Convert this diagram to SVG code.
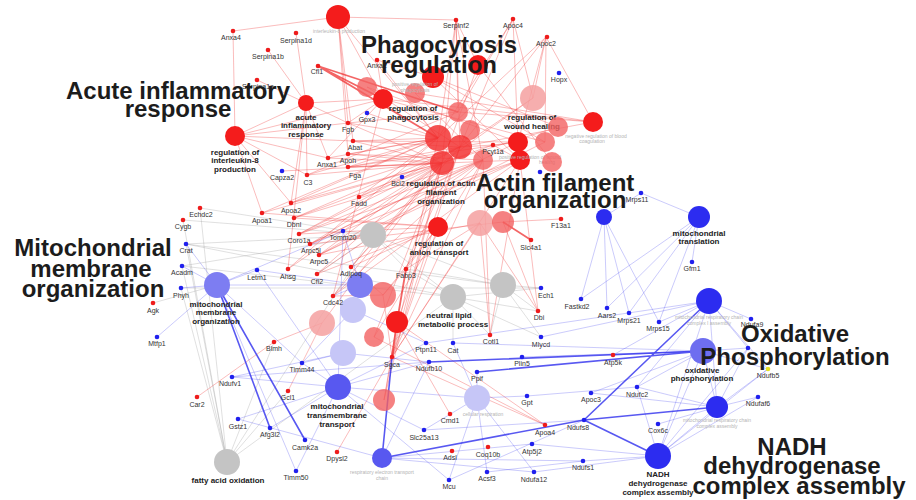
<svg xmlns="http://www.w3.org/2000/svg" width="916" height="500" viewBox="0 0 916 500">
<style>
.er{fill:none;stroke:#f03c3c;stroke-opacity:.38;stroke-width:.9}
.ert{fill:none;stroke:#ee2424;stroke-opacity:.7;stroke-width:1.8}
.eb{fill:none;stroke:#4848f0;stroke-opacity:.32;stroke-width:.9}
.ebt{fill:none;stroke:#2e2eee;stroke-opacity:.8;stroke-width:1.6}
.eg{fill:none;stroke:#9a9a9a;stroke-opacity:.35;stroke-width:.9}
.rg{fill:#ee1c1c}
.bg{fill:#2020ee}
.yg{fill:#e6e020}
.gl{font-family:"Liberation Sans",Arial,sans-serif;font-size:7px;fill:#333;text-anchor:middle}
.tl{font-family:"Liberation Sans",Arial,sans-serif;font-size:8px;font-weight:bold;fill:#222;text-anchor:middle}
.fl{font-family:"Liberation Sans",Arial,sans-serif;font-size:5px;fill:#b4b4b4;text-anchor:middle}
.big{font-family:"Liberation Sans",Arial,sans-serif;font-size:24px;font-weight:bold;fill:#1c1c1c;text-anchor:middle}
.c1{fill:#f41c1c}
.c2{fill:#f23434;fill-opacity:.85}
.c3{fill:#f26262;fill-opacity:.8}
.c4{fill:#f5a0a0;fill-opacity:.85}
.b1{fill:#2c2cf0}
.b2{fill:#5858f0}
.b3{fill:#7d7df2}
.b4{fill:#c6c6f7}
.gr{fill:#c4c4c4}
</style>
<rect width="916" height="500" fill="#fff"/>
<g id="connectors">
<path class="eg" d="M227 462L200 208M227 462L183 220M227 462L186 244M227 462L182 266M227 462L181 288M227 462L288 391M227 462L373 235M227 462L453 297M227 462L274 342M373 235L186 244M373 235L182 266M373 235L200 208M373 235L406 269M373 235L453 297M373 235L503 285M373 235L317 274M453 297L186 244M453 297L182 266M453 297L453 343M453 297L538 311M453 297L541 288M453 297L406 269M453 297L490 335M453 297L541 337M503 285L541 288M503 285L538 311M503 285L490 335M503 285L186 244M503 285L541 337M503 285L406 269M153 303L217 285M183 220L373 235M181 288L541 288"/>
<path class="er" d="M348 123L383 99M348 123L438 138M348 123L458 112M348 123L442 163M353 141L438 138M353 141L442 163M353 141L460 147M353 141L518 142M348 154L438 138M348 154L442 163M348 154L483 160M328 158L383 99M328 158L438 138M328 158L442 163M328 158L235 136M348 167L438 138M348 167L442 163M348 167L460 147M348 167L520 160M348 167L518 142M307 175L306 103M307 175L235 136M307 175L438 138M307 175L442 163M307 175L458 112M291 203L438 138M291 203L442 163M291 203L460 147M291 203L235 136M291 203L306 103M262 213L438 138M262 213L442 163M262 213L235 136M262 213L438 227M294 218L442 163M294 218L460 147M294 218L483 160M294 218L438 227M299 234L442 163M299 234L460 147M299 234L483 160M299 234L520 160M299 234L438 227M310 244L442 163M310 244L483 160M310 244L520 160M310 244L518 142M310 244L503 222M319 255L442 163M319 255L483 160M319 255L520 160M319 255L545 142M319 255L480 223M288 269L438 138M288 269L442 163M288 269L306 103M317 274L442 163M317 274L483 160M317 274L438 227M359 197L438 138M359 197L442 163M359 197L460 147M351 267L442 163M351 267L460 147M351 267L438 227M351 267L383 295M333 296L442 163M333 296L483 160M333 296L520 160M333 296L383 99M377 60L383 99M377 60L438 138M377 60L433 77M456 20L438 138M456 20L442 163M456 20L460 147M456 20L458 112M456 20L478 65M456 20L483 160M513 19L460 147M513 19L438 138M513 19L533 98M513 19L458 112M513 19L518 142M546 37L438 138M546 37L460 147M546 37L593 122M546 37L533 98M546 37L518 142M546 37L545 142M338 17L233 31M338 17L348 123M338 17L353 141M338 17L348 154M338 17L383 99M338 17L438 138M338 17L456 20M306 103L296 33M306 103L268 50M306 103L257 80M306 103L348 123M306 103L328 158M306 103L383 99M235 136L233 31M235 136L306 103M235 136L348 123M235 136L353 141M235 136L383 99M493 145L460 147M493 145L518 142M493 145L520 160M493 145L442 163M383 99L593 122M415 93L593 122M433 77L558 127M458 112L593 122M433 77L545 142M383 99L545 142M367 87L518 142M478 65L552 162M533 98L442 163M433 77L520 160M438 227L406 269M438 227L392 357M438 227L383 295M480 223L490 335M480 223L538 311M480 223L406 269M480 223L392 357M503 222L561 219M503 222L538 311M383 295L392 357M383 295L406 269M383 295L333 296M442 163L392 357M460 147L392 357M438 138L392 357M483 160L392 357M520 160L392 357M442 163L406 269M460 147L406 269M483 160L490 335M520 160L490 335M442 163L374 337M460 147L397 322M337 452L392 357M392 357L384 400M197 397L274 342M274 342L322 323M288 391L322 323M538 311L520 160M450 414L397 322M545 425L397 322M545 425L374 337M545 425L392 357M384 400L397 322M384 400L442 163M282 171L442 163M367 113L438 138M322 323L442 163M374 337L483 160M367 87L460 147M415 93L483 160M478 65L442 163M533 98L460 147M558 127L442 163M593 122L460 147"/>
<path class="ert" d="M318 66L383 99M318 66L438 138M318 66L458 112M531 240L503 222M406 269L397 322M397 322L392 357"/>
<path class="eb" d="M217 285L186 244M217 285L182 266M217 285L181 288M217 285L257 270M217 285L157 337M217 285L343 231M217 285L302 363M217 285L296 471M338 387L302 363M338 387L296 471M338 387L270 428M338 387L424 430M338 387L257 270M338 387L343 231M338 387L232 377M338 387L449 480M338 387L426 343M338 387L238 419M338 387L429 362M382 458L583 461M382 458L534 472M382 458L532 444M382 458L429 362M382 458L238 419M658 456L758 397M658 456L637 387M658 456L717 407M658 456L703 351M658 456L709 301M658 456L748 348M658 456L768 369M658 456L583 461M658 456L534 472M717 407L758 397M717 407L768 369M717 407L748 348M717 407L703 351M717 407L637 387M717 407L709 301M717 407L658 424M703 351L768 369M703 351L748 348M703 351L637 387M703 351L591 393M703 351L613 355M703 351L522 357M703 351L453 343M709 301L751 319M709 301L748 348M709 301L768 369M709 301L659 322M709 301L541 337M709 301L637 387M709 301L613 355M709 301L426 343M699 217L692 262M699 217L581 299M699 217L607 308M699 217L629 313M699 217L659 322M699 217L641 193M604 217L641 193M604 217L581 299M604 217L607 308M604 217L629 313M604 217L659 322M477 398L477 372M477 398L527 396M477 398L453 343M477 398L449 480M477 398L487 472M477 398L424 430M477 398L534 472M477 398L338 387M360 285L343 231M360 285L257 270M360 285L333 296M353 310L302 363M353 310L426 343M343 353L302 363M343 353L429 362M343 353L232 377M360 285L217 285M232 377L429 362M532 444L658 456M424 430L584 420M449 480L584 420M487 472L583 461M527 396L637 387M591 393L717 407"/>
<path class="ebt" d="M217 285L270 428M217 285L305 440M382 458L392 357M382 458L584 420L717 407M584 420L658 456M584 420L709 301M477 372L703 351M429 362L703 351"/>
</g>
<g id="go-il8prod"><circle class="c1" cx="338" cy="17" r="12"/><text class="fl" x="339" y="32.5">interleukin-8 production</text></g>
<g id="go-acute"><circle class="c1" cx="306" cy="103" r="8"/><text class="tl" x="306" y="119.5">acute</text><text class="tl" x="306" y="128">inflammatory</text><text class="tl" x="306" y="136.5">response</text></g>
<g id="go-reg-il8"><circle class="c1" cx="235" cy="136" r="10"/><text class="tl" x="235" y="154.5">regulation of</text><text class="tl" x="235" y="163">interleukin-8</text><text class="tl" x="235" y="171.5">production</text></g>
<g id="go-r4"><circle class="c3" cx="367" cy="87" r="10"/></g>
<g id="go-reg-phago"><circle class="c1" cx="383" cy="99" r="10"/><text class="tl" x="413" y="110.5">regulation of</text><text class="tl" x="413" y="119.5">phagocytosis</text></g>
<g id="go-r6"><circle class="c1" cx="433" cy="77" r="11"/></g>
<g id="go-r7"><circle class="c3" cx="415" cy="93" r="10"/><text class="fl" x="415" y="86">positive regulation of</text><text class="fl" x="415" y="91.5">phagocytosis</text></g>
<g id="go-r8"><circle class="c1" cx="478" cy="65" r="10"/></g>
<g id="go-wound"><circle class="c4" cx="533" cy="98" r="13"/><text class="tl" x="532" y="119.5">regulation of</text><text class="tl" x="532" y="128.5">wound healing</text></g>
<g id="go-r10"><circle class="c1" cx="593" cy="122" r="10"/><text class="fl" x="596" y="137.5">negative regulation of blood</text><text class="fl" x="592" y="143">coagulation</text></g>
<g id="go-r11"><circle class="c3" cx="558" cy="127" r="10"/></g>
<g id="go-r12"><circle class="c3" cx="545" cy="142" r="10"/></g>
<g id="go-r13"><circle class="c1" cx="518" cy="142" r="10"/></g>
<g id="go-r14"><circle class="c3" cx="458" cy="112" r="10"/></g>
<g id="go-r15"><circle class="c3" cx="470" cy="130" r="10"/></g>
<g id="go-r16"><circle class="c2" cx="460" cy="147" r="12"/></g>
<g id="go-r17"><circle class="c1" cx="520" cy="160" r="10"/><text class="fl" x="530" y="158.5">positive regulation of wound</text><text class="fl" x="547" y="164">healing</text></g>
<g id="go-r18"><circle class="c3" cx="483" cy="160" r="10"/></g>
<g id="go-r19"><circle class="c3" cx="552" cy="162" r="10"/></g>
<g id="go-r20"><circle class="c2" cx="438" cy="138" r="13"/></g>
<g id="go-actin"><circle class="c2" cx="442" cy="163" r="12"/><text class="tl" x="441" y="185.5">regulation of actin</text><text class="tl" x="441" y="194.5">filament</text><text class="tl" x="441" y="203.5">organization</text></g>
<g id="go-anion"><circle class="c1" cx="438" cy="227" r="10"/><text class="tl" x="439" y="245.5">regulation of</text><text class="tl" x="439" y="254.5">anion transport</text></g>
<g id="go-r23"><circle class="c4" cx="480" cy="223" r="13"/></g>
<g id="go-r24"><circle class="c3" cx="503" cy="222" r="11"/></g>
<g id="go-r25"><circle class="c3" cx="383" cy="295" r="13"/></g>
<g id="go-r26"><circle class="c1" cx="397" cy="322" r="11"/></g>
<g id="go-r27"><circle class="c4" cx="322" cy="323" r="13"/></g>
<g id="go-r28"><circle class="c3" cx="374" cy="337" r="10"/></g>
<g id="go-r29"><circle class="c3" cx="384" cy="400" r="11"/></g>
<g id="go-g1"><circle class="gr" cx="373" cy="235" r="13"/></g>
<g id="go-lipid"><circle class="gr" cx="453" cy="297" r="13"/><text class="tl" x="449" y="318">neutral lipid</text><text class="tl" x="453" y="326.5">metabolic process</text></g>
<g id="go-g3"><circle class="gr" cx="503" cy="285" r="13"/></g>
<g id="go-fao"><circle class="gr" cx="227" cy="462" r="13"/><text class="tl" x="228" y="483">fatty acid oxidation</text></g>
<g id="go-mmo"><circle class="b3" cx="217" cy="285" r="13"/><text class="tl" x="216" y="306.5">mitochondrial</text><text class="tl" x="216" y="315">membrane</text><text class="tl" x="216" y="323.5">organization</text></g>
<g id="go-b2"><circle class="b3" cx="360" cy="285" r="13"/></g>
<g id="go-b3"><circle class="b4" cx="353" cy="310" r="13"/></g>
<g id="go-b4"><circle class="b4" cx="343" cy="353" r="13"/></g>
<g id="go-mtt"><circle class="b2" cx="338" cy="387" r="13"/><text class="tl" x="337" y="408.5">mitochondrial</text><text class="tl" x="337" y="417.5">transmembrane</text><text class="tl" x="337" y="426.5">transport</text></g>
<g id="go-retc"><circle class="b2" cx="382" cy="458" r="10"/><text class="fl" x="382" y="474">respiratory electron transport</text><text class="fl" x="382" y="480">chain</text></g>
<g id="go-cellresp"><circle class="b4" cx="477" cy="398" r="13"/><text class="fl" x="483" y="415.5">cellular respiration</text></g>
<g id="go-b8"><circle class="b1" cx="604" cy="217" r="8"/></g>
<g id="go-mtrans"><circle class="b1" cx="699" cy="217" r="11"/><text class="tl" x="699" y="235.5">mitochondrial</text><text class="tl" x="699" y="244">translation</text></g>
<g id="go-c1asm"><circle class="b1" cx="709" cy="301" r="13"/><text class="fl" x="709" y="318.5">mitochondrial respiratory chain</text><text class="fl" x="709" y="324.5">complex I assembly</text></g>
<g id="go-oxphos"><circle fill="#6e6ef0" cx="703" cy="351" r="13"/><text class="tl" x="702" y="372.5">oxidative</text><text class="tl" x="702" y="381">phosphorylation</text></g>
<g id="go-casm"><circle class="b1" cx="717" cy="407" r="11"/><text class="fl" x="717" y="421.5">mitochondrial respiratory chain</text><text class="fl" x="717" y="427.5">complex assembly</text></g>
<g id="go-nadh"><circle class="b1" cx="658" cy="456" r="13"/><text class="tl" x="658" y="476.5">NADH</text><text class="tl" x="658" y="485.5">dehydrogenase</text><text class="tl" x="658" y="494.5">complex assembly</text></g>
<g id="genes">
<g id="n-Anxa4"><circle class="rg" cx="233" cy="31" r="2.3"/><text class="gl" x="231" y="40">Anxa4</text></g>
<g id="n-Serpina1d"><circle class="rg" cx="296" cy="33" r="2.3"/><text class="gl" x="296" y="43">Serpina1d</text></g>
<g id="n-Serpina1b"><circle class="rg" cx="268" cy="50" r="2.3"/><text class="gl" x="268" y="59">Serpina1b</text></g>
<g id="n-Serpina1a"><circle class="rg" cx="257" cy="80" r="2.3"/><text class="gl" x="258" y="89">Serpina1a</text></g>
<g id="n-Cfl1"><circle class="rg" cx="318" cy="66" r="2.3"/><text class="gl" x="317" y="74">Cfl1</text></g>
<g id="n-Anxa2"><circle class="rg" cx="377" cy="60" r="2.3"/><text class="gl" x="377" y="68">Anxa2</text></g>
<g id="n-Serpinf2"><circle class="rg" cx="456" cy="20" r="2.3"/><text class="gl" x="456" y="27.5">Serpinf2</text></g>
<g id="n-Apoc4"><circle class="rg" cx="513" cy="19" r="2.3"/><text class="gl" x="513" y="27.5">Apoc4</text></g>
<g id="n-Apoc2"><circle class="rg" cx="547" cy="37" r="2.3"/><text class="gl" x="546" y="46">Apoc2</text></g>
<g id="n-Hopx"><circle class="bg" cx="559" cy="73" r="2.3"/><text class="gl" x="559" y="82">Hopx</text></g>
<g id="n-Pcyt1a"><circle class="rg" cx="493" cy="145" r="2.3"/><text class="gl" x="493" y="153.5">Pcyt1a</text></g>
<g id="n-Gpx3"><circle class="bg" cx="367" cy="113" r="2.3"/><text class="gl" x="367" y="121.5">Gpx3</text></g>
<g id="n-Fgb"><circle class="rg" cx="348" cy="123" r="2.3"/><text class="gl" x="348" y="131.5">Fgb</text></g>
<g id="n-Abat"><circle class="rg" cx="353" cy="141" r="2.3"/><text class="gl" x="355" y="149.5">Abat</text></g>
<g id="n-Apoh"><circle class="rg" cx="348" cy="154" r="2.3"/><text class="gl" x="348" y="162.5">Apoh</text></g>
<g id="n-Anxa1"><circle class="rg" cx="328" cy="158" r="2.3"/><text class="gl" x="327" y="166.5">Anxa1</text></g>
<g id="n-Fga"><circle class="rg" cx="348" cy="167" r="2.3"/><text class="gl" x="355" y="177.5">Fga</text></g>
<g id="n-Capza2"><circle class="bg" cx="282" cy="171" r="2.3"/><text class="gl" x="282" y="179.5">Capza2</text></g>
<g id="n-C3"><circle class="rg" cx="307" cy="175" r="2.3"/><text class="gl" x="308" y="184.5">C3</text></g>
<g id="n-Bcl2"><circle class="bg" cx="402" cy="177" r="2.3"/><text class="gl" x="398" y="185.5">Bcl2</text></g>
<g id="n-Fadd"><circle class="rg" cx="359" cy="197" r="2.3"/><text class="gl" x="359" y="205.5">Fadd</text></g>
<g id="n-Apoa2"><circle class="rg" cx="291" cy="203" r="2.3"/><text class="gl" x="291" y="212.5">Apoa2</text></g>
<g id="n-Apoa1"><circle class="rg" cx="262" cy="213" r="2.3"/><text class="gl" x="262" y="222.5">Apoa1</text></g>
<g id="n-Dbnl"><circle class="rg" cx="294" cy="218" r="2.3"/><text class="gl" x="294" y="226.5">Dbnl</text></g>
<g id="n-Tomm20"><circle class="bg" cx="343" cy="231" r="2.3"/><text class="gl" x="343" y="239.5">Tomm20</text></g>
<g id="n-Coro1a"><circle class="rg" cx="299" cy="234" r="2.3"/><text class="gl" x="299" y="243">Coro1a</text></g>
<g id="n-Arpc5l"><circle class="rg" cx="310" cy="244" r="2.3"/><text class="gl" x="311" y="252.5">Arpc5l</text></g>
<g id="n-Arpc5"><circle class="rg" cx="319" cy="255" r="2.3"/><text class="gl" x="319" y="263.5">Arpc5</text></g>
<g id="n-Ahsg"><circle class="rg" cx="288" cy="269" r="2.3"/><text class="gl" x="288" y="278.5">Ahsg</text></g>
<g id="n-Cfl2"><circle class="rg" cx="317" cy="274" r="2.3"/><text class="gl" x="317" y="283.5">Cfl2</text></g>
<g id="n-Adipoq"><circle class="rg" cx="351" cy="267" r="2.3"/><text class="gl" x="351" y="275.5">Adipoq</text></g>
<g id="n-Cdc42"><circle class="rg" cx="333" cy="296" r="2.3"/><text class="gl" x="333" y="304.5">Cdc42</text></g>
<g id="n-Fabp3"><circle class="rg" cx="406" cy="269" r="2.3"/><text class="gl" x="406" y="277.5">Fabp3</text></g>
<g id="n-Letm1"><circle class="bg" cx="257" cy="270" r="2.3"/><text class="gl" x="257" y="279.5">Letm1</text></g>
<g id="n-Echdc2"><circle class="rg" cx="200" cy="208" r="2.3"/><text class="gl" x="201" y="216.5">Echdc2</text></g>
<g id="n-Cygb"><circle class="rg" cx="183" cy="220" r="2.3"/><text class="gl" x="183" y="228.5">Cygb</text></g>
<g id="n-Crat"><circle class="bg" cx="186" cy="244" r="2.3"/><text class="gl" x="186" y="252.5">Crat</text></g>
<g id="n-Acadm"><circle class="bg" cx="182" cy="266" r="2.3"/><text class="gl" x="182" y="274.5">Acadm</text></g>
<g id="n-Phyh"><circle class="bg" cx="181" cy="288" r="2.3"/><text class="gl" x="181" y="297.5">Phyh</text></g>
<g id="n-Agk"><circle class="rg" cx="153" cy="303" r="2.3"/><text class="gl" x="153" y="312.5">Agk</text></g>
<g id="n-Mtfp1"><circle class="bg" cx="157" cy="337" r="2.3"/><text class="gl" x="157" y="345.5">Mtfp1</text></g>
<g id="n-F13a1"><circle class="rg" cx="561" cy="219" r="2.3"/><text class="gl" x="561" y="227.5">F13a1</text></g>
<g id="n-Slc4a1"><circle class="rg" cx="531" cy="240" r="2.3"/><text class="gl" x="531" y="249.5">Slc4a1</text></g>
<g id="n-x540"><circle class="bg" cx="540" cy="172" r="2.3"/></g>
<g id="n-Ech1"><circle class="bg" cx="541" cy="288" r="2.3"/><text class="gl" x="546" y="297.5">Ech1</text></g>
<g id="n-Dbi"><circle class="rg" cx="538" cy="311" r="2.3"/><text class="gl" x="539" y="319.5">Dbi</text></g>
<g id="n-Mrps11"><circle class="bg" cx="641" cy="193" r="2.3"/><text class="gl" x="637" y="201.5">Mrps11</text></g>
<g id="n-Gfm1"><circle class="bg" cx="692" cy="262" r="2.3"/><text class="gl" x="692" y="270.5">Gfm1</text></g>
<g id="n-Fastkd2"><circle class="bg" cx="581" cy="299" r="2.3"/><text class="gl" x="577" y="308.5">Fastkd2</text></g>
<g id="n-Aars2"><circle class="bg" cx="607" cy="308" r="2.3"/><text class="gl" x="607" y="317.5">Aars2</text></g>
<g id="n-Mrps21"><circle class="bg" cx="629" cy="313" r="2.3"/><text class="gl" x="629" y="322.5">Mrps21</text></g>
<g id="n-Mrps15"><circle class="bg" cx="659" cy="322" r="2.3"/><text class="gl" x="658" y="330.5">Mrps15</text></g>
<g id="n-Blmh"><circle class="rg" cx="274" cy="342" r="2.3"/><text class="gl" x="274" y="350.5">Blmh</text></g>
<g id="n-Ptpn11"><circle class="bg" cx="426" cy="343" r="2.3"/><text class="gl" x="426" y="351.5">Ptpn11</text></g>
<g id="n-Sgca"><circle class="rg" cx="392" cy="357" r="2.3"/><text class="gl" x="392" y="366.5">Sgca</text></g>
<g id="n-Ndufb10"><circle class="bg" cx="429" cy="362" r="2.3"/><text class="gl" x="429" y="370.5">Ndufb10</text></g>
<g id="n-Timm44"><circle class="bg" cx="302" cy="363" r="2.3"/><text class="gl" x="302" y="371.5">Timm44</text></g>
<g id="n-Ndufv1"><circle class="bg" cx="232" cy="377" r="2.3"/><text class="gl" x="230" y="385.5">Ndufv1</text></g>
<g id="n-Gcl1"><circle class="rg" cx="288" cy="391" r="2.3"/><text class="gl" x="288" y="399.5">Gcl1</text></g>
<g id="n-Car2"><circle class="rg" cx="197" cy="397" r="2.3"/><text class="gl" x="197" y="406.5">Car2</text></g>
<g id="n-Gstz1"><circle class="bg" cx="238" cy="419" r="2.3"/><text class="gl" x="238" y="428.5">Gstz1</text></g>
<g id="n-Afg3l2"><circle class="bg" cx="270" cy="428" r="2.3"/><text class="gl" x="270" y="436.5">Afg3l2</text></g>
<g id="n-Camk2a"><circle class="bg" cx="305" cy="440" r="2.3"/><text class="gl" x="305" y="449.5">Camk2a</text></g>
<g id="n-Slc25a13"><circle class="bg" cx="424" cy="430" r="2.3"/><text class="gl" x="424" y="439.5">Slc25a13</text></g>
<g id="n-Dpysl2"><circle class="rg" cx="337" cy="452" r="2.3"/><text class="gl" x="337" y="460.5">Dpysl2</text></g>
<g id="n-Timm50"><circle class="bg" cx="296" cy="471" r="2.3"/><text class="gl" x="296" y="479.5">Timm50</text></g>
<g id="n-Cotl1"><circle class="rg" cx="490" cy="335" r="2.3"/><text class="gl" x="491" y="343.5">Cotl1</text></g>
<g id="n-Cat"><circle class="bg" cx="453" cy="343" r="2.3"/><text class="gl" x="453" y="352.5">Cat</text></g>
<g id="n-Mlycd"><circle class="bg" cx="541" cy="337" r="2.3"/><text class="gl" x="541" y="346.5">Mlycd</text></g>
<g id="n-Plin5"><circle class="bg" cx="522" cy="357" r="2.3"/><text class="gl" x="522" y="365.5">Plin5</text></g>
<g id="n-Atp5k"><circle class="rg" cx="613" cy="355" r="2.3"/><text class="gl" x="613" y="364.5">Atp5k</text></g>
<g id="n-Ppif"><circle class="bg" cx="477" cy="372" r="2.3"/><text class="gl" x="477" y="380.5">Ppif</text></g>
<g id="n-Gpt"><circle class="bg" cx="527" cy="396" r="2.3"/><text class="gl" x="527" y="404.5">Gpt</text></g>
<g id="n-Apoc3"><circle class="bg" cx="591" cy="393" r="2.3"/><text class="gl" x="591" y="401.5">Apoc3</text></g>
<g id="n-Ndufc2"><circle class="bg" cx="637" cy="387" r="2.3"/><text class="gl" x="637" y="396.5">Ndufc2</text></g>
<g id="n-Cmd1"><circle class="rg" cx="450" cy="414" r="2.3"/><text class="gl" x="450" y="422.5">Cmd1</text></g>
<g id="n-Ndufs8"><circle class="bg" cx="584" cy="420" r="2.3"/><text class="gl" x="578" y="429.5">Ndufs8</text></g>
<g id="n-Apoa4"><circle class="rg" cx="545" cy="425" r="2.3"/><text class="gl" x="545" y="434.5">Apoa4</text></g>
<g id="n-Cox6c"><circle class="bg" cx="658" cy="424" r="2.3"/><text class="gl" x="658" y="432.5">Cox6c</text></g>
<g id="n-Adsl"><circle class="rg" cx="452" cy="451" r="2.3"/><text class="gl" x="450" y="459.5">Adsl</text></g>
<g id="n-Coq10b"><circle class="rg" cx="488" cy="447" r="2.3"/><text class="gl" x="488" y="456.5">Coq10b</text></g>
<g id="n-Atp5j2"><circle class="bg" cx="532" cy="444" r="2.3"/><text class="gl" x="532" y="453.5">Atp5j2</text></g>
<g id="n-Ndufs1"><circle class="bg" cx="583" cy="461" r="2.3"/><text class="gl" x="583" y="469.5">Ndufs1</text></g>
<g id="n-Mcu"><circle class="bg" cx="449" cy="480" r="2.3"/><text class="gl" x="449" y="488.5">Mcu</text></g>
<g id="n-Acsf3"><circle class="bg" cx="487" cy="472" r="2.3"/><text class="gl" x="487" y="480.5">Acsf3</text></g>
<g id="n-Ndufa12"><circle class="bg" cx="534" cy="472" r="2.3"/><text class="gl" x="534" y="481.5">Ndufa12</text></g>
<g id="n-Ndufa9"><circle class="bg" cx="751" cy="319" r="2.3"/><text class="gl" x="752" y="327">Ndufa9</text></g>
<g id="n-x748"><circle class="bg" cx="748" cy="348" r="2.3"/></g>
<g id="n-Ndufb5"><circle class="yg" cx="768" cy="369" r="2.3"/><text class="gl" x="768" y="377.5">Ndufb5</text></g>
<g id="n-Ndufaf6"><circle class="bg" cx="758" cy="397" r="2.3"/><text class="gl" x="758" y="405.5">Ndufaf6</text></g>
</g>
<g id="cluster-labels">
<text class="big" x="439" y="53">Phagocytosis</text>
<text class="big" x="439" y="73">regulation</text>
<text class="big" x="178" y="99">Acute inflammatory</text>
<text class="big" x="178" y="117">response</text>
<text class="big" x="555" y="191">Actin filament</text>
<text class="big" x="555" y="208">organization</text>
<text class="big" x="93" y="256">Mitochondrial</text>
<text class="big" x="91" y="277">membrane</text>
<text class="big" x="93" y="297">organization</text>
<text class="big" x="795" y="342">Oxidative</text>
<text class="big" x="795" y="365">Phosphorylation</text>
<text class="big" x="792" y="455">NADH</text>
<text class="big" x="792" y="474">dehydrogenase</text>
<text class="big" x="799" y="494" textLength="213" lengthAdjust="spacingAndGlyphs">complex assembly</text>
</g>
</svg>
